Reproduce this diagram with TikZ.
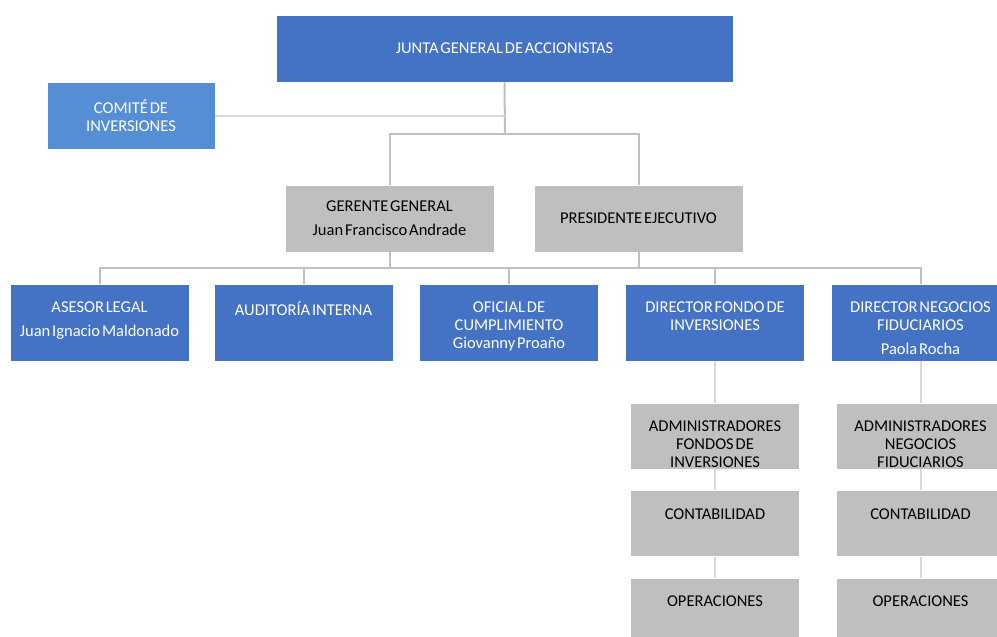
\documentclass[tikz,border=0pt]{standalone}
\usepackage{fontspec}
\setmainfont{Carlito}[WordSpace=0.5]
\usetikzlibrary{positioning}
\definecolor{OrgBlue}{HTML}{4472C4}
\definecolor{ComiteBlue}{HTML}{558ED5}
\definecolor{OrgGray}{HTML}{BFBFBF}
\definecolor{LineGray}{HTML}{BFBFBF}
\definecolor{LineLight}{HTML}{D9D9D9}
\tikzset{
  orgfont/.style={font=\fontsize{16.5}{18}\selectfont},
  box/.style={draw=white, line width=.6pt, inner sep=0pt, align=center, orgfont},
  bluebox/.style={box, fill=OrgBlue, text=white},
  graybox/.style={box, fill=OrgGray, text=black},
  rowbox/.style={bluebox, minimum width=179pt, minimum height=77pt},
  subbox/.style={graybox, minimum width=169pt, minimum height=66pt},
  toptext/.style={anchor=north, yshift=-18pt, align=center, inner sep=0pt, orgfont},
  conn/.style={draw=LineGray, line width=2pt},
}
\begin{document}
\begin{tikzpicture}[x=1pt,y=-1pt]
\useasboundingbox (0,0) rectangle (997,637);
\clip (0,0) rectangle (997,637);
% top levels
\node[bluebox, minimum width=457pt, minimum height=67pt] (junta) at (504.5,48.5) {JUNTA GENERAL DE ACCIONISTAS};
\node[box, fill=ComiteBlue, text=white, minimum width=168pt, minimum height=67pt] (comite) at (131,115.5) {COMITÉ DE\\INVERSIONES};
\node[graybox, minimum width=209pt, minimum height=67pt] (gerente) at (389.5,218.5) {GERENTE GENERAL\\[6pt]Juan Francisco Andrade};
\node[graybox, minimum width=209pt, minimum height=67pt] (presidente) at (638.5,218.5) {PRESIDENTE EJECUTIVO};
% second row
\node[rowbox, label={[toptext,white]north:{ASESOR LEGAL\\[6pt]Juan Ignacio Maldonado}}] (asesor) at (99.5,322.5) {};
\node[rowbox, label={[toptext,white]north:{AUDITORÍA INTERNA}}] (auditoria) at (303.5,322.5) {};
\node[rowbox, label={[toptext,white]north:{OFICIAL DE\\CUMPLIMIENTO\\Giovanny Proaño}}] (oficial) at (509,322.5) {};
\node[rowbox, label={[toptext,white]north:{DIRECTOR FONDO DE\\INVERSIONES}}] (dirfondo) at (715,322.5) {};
\node[rowbox, label={[toptext,white]north:{DIRECTOR NEGOCIOS\\FIDUCIARIOS\\[6pt]Paola Rocha}}] (dirneg) at (920.5,322.5) {};
% sub units
\node[subbox, label={[toptext]north:{ADMINISTRADORES\\FONDOS DE\\INVERSIONES}}] (admfondo) at (715,436) {};
\node[subbox, label={[toptext]north:{CONTABILIDAD}}] (contfondo) at (715,523.5) {};
\node[subbox, label={[toptext]north:{OPERACIONES}}] (operfondo) at (715,611) {};
\node[subbox, label={[toptext]north:{ADMINISTRADORES\\NEGOCIOS\\FIDUCIARIOS}}] (admneg) at (920.5,436) {};
\node[subbox, label={[toptext]north:{CONTABILIDAD}}] (contneg) at (920.5,523.5) {};
\node[subbox, label={[toptext]north:{OPERACIONES}}] (operneg) at (920.5,611) {};
% connectors
\coordinate (busA) at (505,134);
\coordinate (busB) at (389.5,268);
\draw[conn] (junta.south) -- (busA);
\draw[conn] (gerente.north) |- (busA) -| (presidente.north);
\draw[draw=LineLight, line width=2pt] (comite.east) -- (comite.east -| junta.south);
\draw[conn] (gerente.south) -- (busB);
\draw[conn] (presidente.south) -- (presidente.south |- busB);
\foreach \n in {asesor,auditoria,oficial,dirfondo,dirneg}
  \draw[conn] (\n.north) |- (busB);
\draw[draw=LineLight, line width=2pt] (dirfondo) -- (admfondo) -- (contfondo) -- (operfondo);
\draw[draw=LineLight, line width=2pt] (dirneg) -- (admneg) -- (contneg) -- (operneg);
\end{tikzpicture}
\end{document}
